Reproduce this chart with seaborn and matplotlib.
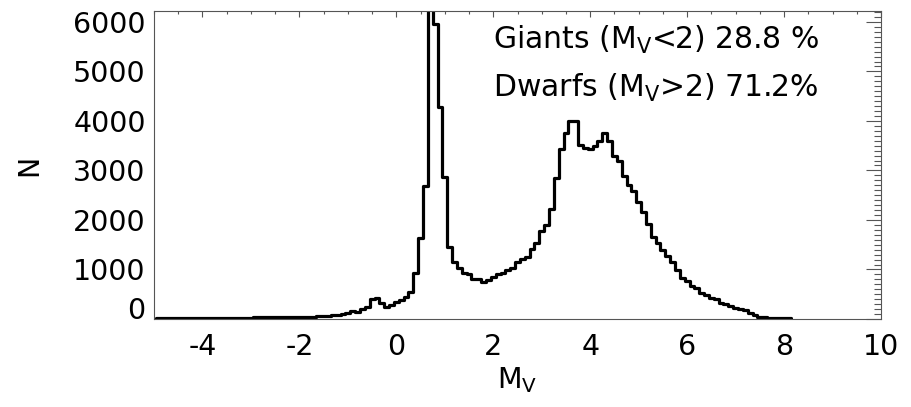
import numpy as np
import pandas as pd
import seaborn as sns
import matplotlib
matplotlib.use("Agg")
import matplotlib.pyplot as plt
from matplotlib.ticker import MultipleLocator

# Histogram of absolute magnitude M_V, bins of width 0.1 centred on -4.9 ... 8.1
bin_first_center = -4.9
bin_width = 0.1
counts = [
    22, 22, 22, 22, 22, 23, 23, 23, 24, 24,              # -4.9 .. -4.0
    24, 24, 25, 25, 26, 26, 27, 28, 29, 30,              # -3.9 .. -3.0
    31, 32, 33, 34, 35, 36, 37, 38, 40, 42,              # -2.9 .. -2.0
    44, 46, 49, 53, 58, 65, 77, 90, 105, 124,            # -1.9 .. -1.0
    160, 150, 200, 250, 410, 420, 320, 240, 285, 340,    # -0.9 .. 0.0
    390, 450, 550, 931, 1638, 2689, 6400, 5948, 4272, 2858,   # 0.1 .. 1.0
    1456, 1153, 1030, 932, 905, 817, 804, 750, 784, 851,      # 1.1 .. 2.0
    905, 939, 986, 1020, 1154, 1208, 1255, 1423, 1538, 1774,  # 2.1 .. 3.0
    1908, 2212, 2842, 3430, 3747, 3995, 3995, 3511, 3457, 3424,  # 3.1 .. 4.0
    3491, 3592, 3747, 3598, 3289, 3195, 2889, 2701, 2586, 2364,  # 4.1 .. 5.0
    2162, 1927, 1665, 1530, 1390, 1269, 1154, 986, 818, 770,     # 5.1 .. 6.0
    663, 616, 515, 481, 434, 394, 326, 313, 259, 232,            # 6.1 .. 7.0
    212, 178, 124, 77, 48, 32, 25, 22, 20, 20, 20,               # 7.1 .. 8.1
]
mv_centers = np.round(bin_first_center + bin_width * np.arange(len(counts)), 2)

x_ticks = [-4, -2, 0, 2, 4, 6, 8, 10]
y_ticks = [0, 1000, 2000, 3000, 4000, 5000, 6000]
giants_text = r"Giants (M$_\mathregular{V}$<2) 28.8 %"
dwarfs_text = r"Dwarfs (M$_\mathregular{V}$>2) 71.2%"

df = pd.DataFrame({"mv": mv_centers, "n": counts})

sns.set_theme(style="white")
plt.rcParams["font.family"] = ["DejaVu Sans"]
plt.rcParams["mathtext.fontset"] = "dejavusans"

FS = 20.5
fig = plt.figure(figsize=(9.11, 4.07), dpi=100)
ax = fig.add_axes([154 / 911, 88 / 407, 727 / 911, 308 / 407])

sns.histplot(data=df, x="mv", weights="n", binwidth=bin_width,
             binrange=(bin_first_center - bin_width / 2,
                       mv_centers[-1] + bin_width / 2),
             element="step", fill=False, color="black", linewidth=2.3, ax=ax)

ax.set_xlim(-5, 10)
ax.set_ylim(0, 6220)
ax.set_xticks(x_ticks)
ax.set_yticks(y_ticks)
ax.set_xticklabels([str(t) for t in x_ticks])
ax.set_yticklabels([str(t) for t in y_ticks])
ax.xaxis.set_minor_locator(MultipleLocator(0.5))
ax.yaxis.set_minor_locator(MultipleLocator(100))

ax.tick_params(which="both", direction="in", top=True, right=True,
               color="#555555", width=0.8, labelsize=FS, labelcolor="black")
ax.tick_params(axis="x", which="major", length=4.5, pad=10)
ax.tick_params(axis="x", which="minor", length=2.2)
ax.tick_params(axis="y", which="major", length=10.5, pad=6)
ax.tick_params(axis="y", which="minor", length=5.2)

for lab in ax.get_yticklabels():
    if lab.get_text() == "0":
        lab.set_verticalalignment("baseline")

for s in ax.spines.values():
    s.set_color("#555555")
    s.set_linewidth(0.8)

ax.set_xlabel(r"M$_\mathregular{V}$", fontsize=FS, color="black")
ax.set_ylabel("N", fontsize=FS, color="black")
ax.xaxis.set_label_coords(0.5, -0.15)
ax.yaxis.set_label_coords(-0.153, 0.5)

ax.text(0.466, 0.906, giants_text, transform=ax.transAxes, fontsize=21.5,
        ha="left", va="center", color="black")
ax.text(0.466, 0.75, dwarfs_text, transform=ax.transAxes, fontsize=21.5,
        ha="left", va="center", color="black")

fig.savefig("out.png", dpi=100)
